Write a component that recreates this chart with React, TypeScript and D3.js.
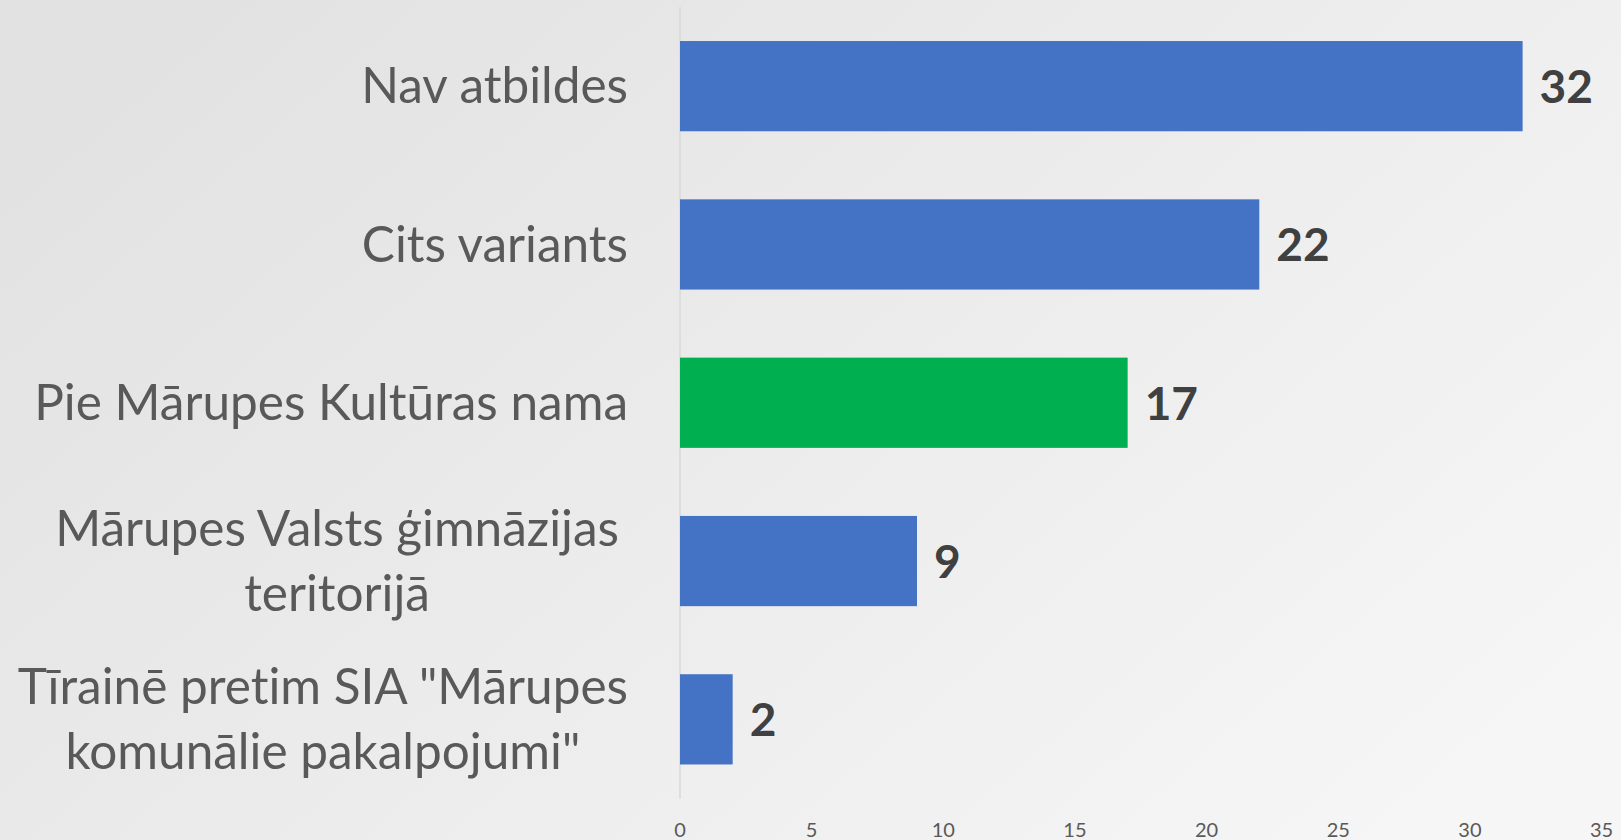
import React, { useEffect, useRef } from "react";
import * as d3 from "d3";

const categoryLines: string[][] = [
  ["Nav atbildes"],
  ["Cits variants"],
  ["Pie Mārupes Kultūras nama"],
  ["Mārupes Valsts ģimnāzijas", "teritorijā"],
  ["Tīrainē pretim SIA \"Mārupes", "komunālie pakalpojumi\""],
];
const values: number[] = [32, 22, 17, 9, 2];
const highlighted: boolean[] = [false, false, true, false, false];
const xTicks: number[] = [0, 5, 10, 15, 20, 25, 30, 35];

const W = 1621;
const H = 840;
const FONT = "Lato, 'Open Sans', sans-serif";

export default function App() {
  const ref = useRef<SVGSVGElement | null>(null);

  useEffect(() => {
    const svg = d3.select(ref.current);
    svg.selectAll("*").remove();

    const defs = svg.append("defs");
    const grad = defs
      .append("linearGradient")
      .attr("id", "bg")
      .attr("x1", "0")
      .attr("y1", "0.2")
      .attr("x2", "1")
      .attr("y2", "0.8");
    grad.append("stop").attr("offset", "0").attr("stop-color", "#e2e2e2");
    grad.append("stop").attr("offset", "0.5").attr("stop-color", "#ececec");
    grad.append("stop").attr("offset", "1").attr("stop-color", "#f6f6f6");

    svg.append("rect").attr("width", W).attr("height", H).attr("fill", "url(#bg)");

    const keys = categoryLines.map((l) => l.join(" "));
    const x = d3.scaleLinear().domain([0, 35]).range([680, 1601.6]);
    const y = d3
      .scaleBand<string>()
      .domain(keys)
      .range([7, 798.5])
      .paddingInner(0.43)
      .paddingOuter(0.215);

    // axis line
    svg
      .append("line")
      .attr("x1", x(0))
      .attr("x2", x(0))
      .attr("y1", 7)
      .attr("y2", 798.5)
      .attr("stroke", "#d9d9d9")
      .attr("stroke-width", 1.5);

    // bars
    svg
      .selectAll("rect.bar")
      .data(values)
      .enter()
      .append("rect")
      .attr("class", "bar")
      .attr("x", x(0))
      .attr("y", (_, i) => y(keys[i]) as number)
      .attr("width", (d) => x(d) - x(0))
      .attr("height", y.bandwidth())
      .attr("fill", (_, i) => (highlighted[i] ? "#00B050" : "#4472C4"));

    // value labels
    svg
      .selectAll("text.val")
      .data(values)
      .enter()
      .append("text")
      .attr("class", "val")
      .attr("x", (d) => x(d) + 17)
      .attr("y", (_, i) => (y(keys[i]) as number) + y.bandwidth() / 2)
      .attr("dy", "0.37em")
      .attr("font-family", FONT)
      .attr("font-weight", "bold")
      .attr("font-size", 46)
      .attr("fill", "#404040")
      .text((d) => String(d));

    // category labels
    const right = 628;
    const lineH = 65;
    categoryLines.forEach((lines, i) => {
      const cy = (y(keys[i]) as number) + y.bandwidth() / 2;
      const g = svg.append("g");
      const texts = lines.map((ln, j) =>
        g
          .append("text")
          .attr("y", cy + (j - (lines.length - 1) / 2) * lineH)
          .attr("dy", "0.35em")
          .attr("font-family", FONT)
          .attr("font-size", 49.5)
          .attr("fill", "#595959")
          .attr("text-anchor", "middle")
          .style("font-variant-ligatures", "none")
          .style("font-feature-settings", "'liga' 0")
          .text(ln)
      );
      const widths = texts.map((t) => (t.node() as SVGTextElement).getComputedTextLength());
      const maxW = Math.max(...widths);
      const extra = i === 3 ? 9 : 0;
      const cx = right - extra - maxW / 2;
      texts.forEach((t) => t.attr("x", cx));
    });

    // tick labels
    svg
      .selectAll("text.tick")
      .data(xTicks)
      .enter()
      .append("text")
      .attr("class", "tick")
      .attr("x", (d) => x(d))
      .attr("y", 830)
      .attr("dy", "0.35em")
      .attr("text-anchor", "middle")
      .attr("font-family", FONT)
      .attr("font-size", 20)
      .attr("fill", "#595959")
      .text((d) => String(d));
  }, []);

  return (
    <svg
      ref={ref}
      width={W}
      height={H}
      style={{ position: "absolute", left: 0, top: 0, display: "block" }}
    />
  );
}
